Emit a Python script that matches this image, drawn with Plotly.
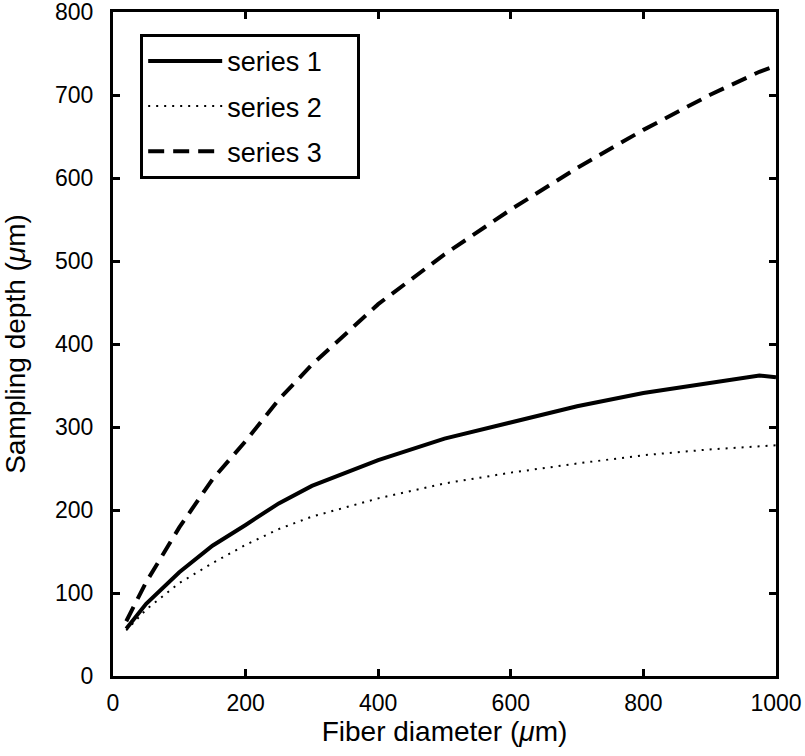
import plotly.graph_objects as go

diameter = [20, 50, 100, 150, 200, 250, 300, 400, 500, 600, 700, 800, 900, 975, 1000]
series_1 = [57, 87, 125, 157, 182, 208, 229, 260, 286, 306, 325, 341, 353, 362, 360]
series_2 = [55, 80, 112, 136, 158, 177, 192, 214, 232, 245, 256, 266, 273, 277, 278]
series_3 = [66, 113, 179, 237, 283, 333, 375, 448, 508, 562, 612, 658, 700, 728, 735]

font_family = "Liberation Sans, Arial, Helvetica, sans-serif"
pad = "\u00a0" * 4

fig = go.Figure()
fig.add_trace(go.Scatter(x=diameter, y=series_1, mode="lines", name="series 1" + pad,
                         legendgroup="a",
                         line=dict(color="black", width=4, dash="solid")))
fig.add_trace(go.Scatter(x=diameter, y=series_2, mode="lines", name="series 2",
                         legendgroup="b",
                         line=dict(color="black", width=2, dash="2px,6px")))
fig.add_trace(go.Scatter(x=diameter, y=series_3, mode="lines", name="series 3",
                         legendgroup="c",
                         line=dict(color="black", width=4, dash="16px,9px")))

axis_style = dict(showline=True, linecolor="black", linewidth=3, mirror="ticks",
                  ticks="inside", ticklen=7, tickwidth=3, tickcolor="black",
                  showgrid=False, zeroline=False, automargin=False,
                  ticklabeloverflow="allow",
                  tickfont=dict(size=23, color="black", family=font_family))

fig.update_xaxes(range=[0, 1000], tickvals=[0, 200, 400, 600, 800, 1000],
                 ticklabelstandoff=4,
                 title=dict(text="Fiber diameter (<i>μ</i>m)", standoff=5,
                            font=dict(size=28, color="black", family=font_family)),
                 **axis_style)
fig.update_yaxes(range=[0, 800], tickvals=[0, 100, 200, 300, 400, 500, 600, 700, 800],
                 ticklabelstandoff=12,
                 title=dict(text="Sampling depth (<i>μ</i>m)", standoff=29,
                            font=dict(size=28, color="black", family=font_family)),
                 **axis_style)

fig.update_layout(
    width=805, height=756,
    margin=dict(l=113, r=29, t=12, b=80),
    plot_bgcolor="white", paper_bgcolor="white",
    font=dict(family=font_family, color="black"),
    legend=dict(x=0.041, y=0.967, xanchor="left", yanchor="top",
                bgcolor="white", bordercolor="black", borderwidth=3,
                font=dict(size=27, color="black", family=font_family),
                traceorder="grouped", tracegroupgap=7, itemwidth=74),
    showlegend=True,
)

# drop the page's default body margin so the figure sits at the window corner
fig.write_html("out.html", config={"displayModeBar": False},
               post_script="document.body.style.margin = '0';")
